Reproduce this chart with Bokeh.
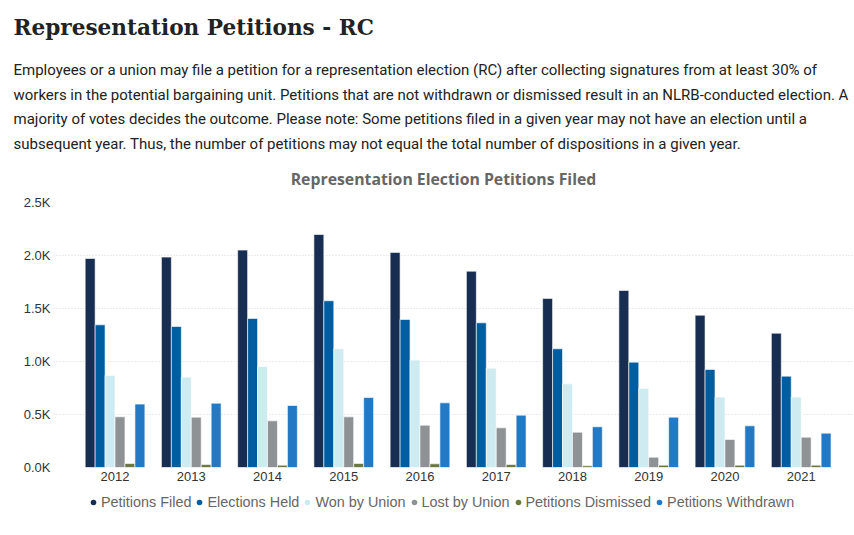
import numpy as np
from bokeh.plotting import figure
from bokeh.layouts import column
from bokeh.models import (Range1d, FixedTicker, Legend, LegendItem, ColumnDataSource)
from bokeh.core.properties import value
from bokeh.embed import file_html
from bokeh.resources import INLINE

years = [2012, 2013, 2014, 2015, 2016, 2017, 2018, 2019, 2020, 2021]
petitions_filed = [1972, 1985, 2051, 2198, 2029, 1852, 1595, 1670, 1437, 1267]
elections_held = [1346, 1330, 1406, 1573, 1396, 1365, 1120, 994, 925, 862]
won_by_union = [868, 852, 953, 1120, 1013, 937, 789, 745, 664, 664]
lost_by_union = [478, 475, 440, 478, 399, 374, 333, 97, 264, 286]
petitions_dismissed = [38, 28, 22, 38, 35, 28, 16, 22, 22, 22]
petitions_withdrawn = [598, 607, 585, 660, 610, 494, 384, 475, 393, 324]

series_names = ["Petitions Filed", "Elections Held", "Won by Union", "Lost by Union",
                "Petitions Dismissed", "Petitions Withdrawn"]
series_values = [petitions_filed, elections_held, won_by_union, lost_by_union,
                 petitions_dismissed, petitions_withdrawn]
colors = ["#172D52", "#005DA0", "#CDEBF0", "#8E9295", "#6B7840", "#2479C4"]

y_ticks = [0, 500, 1000, 1500, 2000, 2500]
y_tick_labels = ["0.0K", "0.5K", "1.0K", "1.5K", "2.0K", "2.5K"]

title_text = "Representation Petitions - RC"
body_lines = [
    "Employees or a union may file a petition for a representation election (RC) after collecting signatures from at least 30% of",
    "workers in the potential bargaining unit. Petitions that are not withdrawn or dismissed result in an NLRB-conducted election. A",
    "majority of votes decides the outcome. Please note: Some petitions filed in a given year may not have an election until a",
    "subsequent year. Thus, the number of petitions may not equal the total number of dispositions in a given year.",
]
chart_title = "Representation Election Petitions Filed"

W = 854
HH = 194          # header height
CH = 296          # chart figure height
LH = 535 - HH - CH  # legend strip height


def blank(h):
    f = figure(width=W, height=h, output_backend="svg", toolbar_location=None,
               x_axis_type=None, y_axis_type=None, min_border=0, frame_align=False,
               x_range=Range1d(0, W), y_range=Range1d(h, 0))
    f.outline_line_color = None
    f.grid.grid_line_color = None
    f.background_fill_color = "white"
    f.border_fill_color = "white"
    return f


# ---- header (titles and description) ----
hdr = blank(HH)
hdr.text(x=[13], y=[26.7], text=[title_text], text_font=value("DejaVu Serif"),
         text_font_style="bold", text_font_size="21.6px", text_color="#222222",
         text_baseline="alphabetic", text_align="left")
hdr.text(x=[13] * 4, y=[69.5, 94.0, 118.5, 143.0], text=body_lines,
         text_font=value("Roboto"), text_font_size="15px", text_color="#222222",
         text_baseline="alphabetic", text_align="left")
hdr.text(x=[443], y=[178.3], text=[chart_title], text_font=value("Open Sans"),
         text_font_style="bold", text_font_size="15.8px", text_color="#666666",
         text_baseline="alphabetic", text_align="center")

# ---- chart ----
p = figure(width=W, height=CH, output_backend="svg", toolbar_location=None,
           x_range=Range1d(2011.193, 2021.686), y_range=Range1d(0, 2500),
           min_border_left=53, min_border_right=1, min_border_top=8,
           min_border_bottom=23, frame_align=False)
p.outline_line_color = None
p.background_fill_color = "white"
p.border_fill_color = "white"

bw = 0.1305
for i, (vals, col) in enumerate(zip(series_values, colors)):
    xs = np.array(years, dtype=float) + (i - 2.5) * bw
    src = ColumnDataSource(dict(x=xs, top=vals))
    p.vbar(x="x", top="top", width=bw, source=src, fill_color=col,
           line_color="white", line_alpha=0.6, line_width=1)

p.xaxis.ticker = FixedTicker(ticks=years)
p.yaxis.ticker = FixedTicker(ticks=y_ticks)
p.yaxis.major_label_overrides = {t: l for t, l in zip(y_ticks, y_tick_labels)}
for ax in (p.xaxis, p.yaxis):
    ax.axis_line_color = None
    ax.major_tick_out = 0
    ax.major_tick_in = 0
    ax.minor_tick_out = 0
    ax.minor_tick_in = 0
    ax.major_label_text_font = "Liberation Sans"
    ax.major_label_text_font_size = "13px"
    ax.major_label_text_color = "#333333"
p.xaxis.major_label_standoff = 4
p.yaxis.major_label_standoff = 3

p.xgrid.grid_line_color = None
p.ygrid.grid_line_color = "#d8d8d8"
p.ygrid.grid_line_dash = "1 2"

# ---- legend strip ----
lg = blank(LH)
items = []
for name, vals, col in zip(series_names, series_values, colors):
    dot = lg.scatter(x=years, y=vals, size=0, fill_color=col, line_color=None)
    items.append(LegendItem(label=name, renderers=[dot]))
legend = Legend(items=items, orientation="horizontal", location=(86, LH - 20),
                glyph_width=14, glyph_height=14, label_standoff=1, spacing=1,
                label_height=14, padding=0, margin=0,
                label_text_font="Liberation Sans", label_text_font_size="14.4px",
                label_text_color="#666666", background_fill_alpha=0,
                border_line_color=None)
lg.add_layout(legend, "center")

layout = column(hdr, p, lg, spacing=0)
open("out.html", "w").write(file_html(layout, INLINE))
